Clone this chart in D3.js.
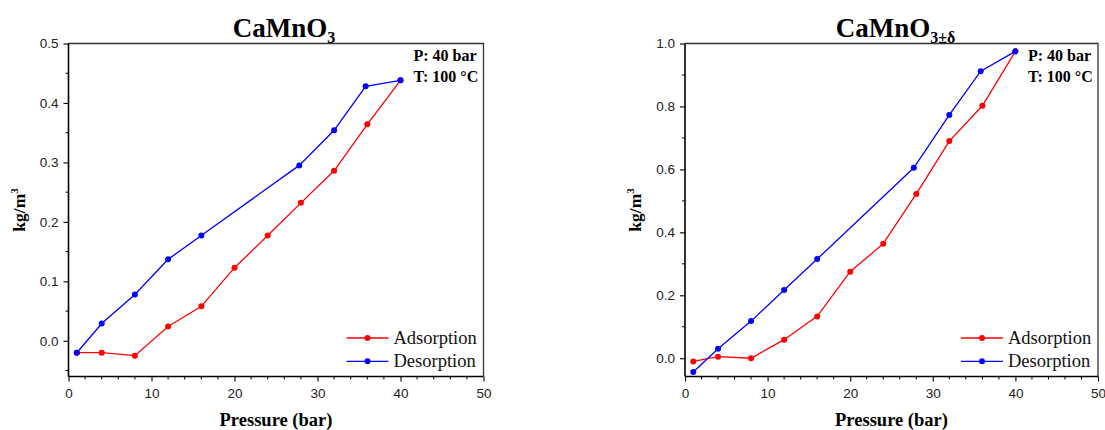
<!DOCTYPE html>
<html><head><meta charset="utf-8">
<script src="https://cdn.jsdelivr.net/npm/d3@7"></script>
<style>
html,body{margin:0;padding:0;background:#fff;}
svg{display:block;}
</style></head>
<body>
<svg id="chart" width="1105" height="430"></svg>
<script>
// ---- data ----
const leftAdsX = [1, 4, 8, 12, 16, 20, 24, 28, 32, 36, 40];
const leftAdsY = [-0.020, -0.020, -0.025, 0.024, 0.058, 0.123, 0.177, 0.232, 0.286, 0.364, 0.438];
const leftDesX = [1, 4, 8, 12, 16, 27.8, 32, 35.8, 40];
const leftDesY = [-0.020, 0.029, 0.078, 0.137, 0.177, 0.295, 0.354, 0.428, 0.438];

const rightAdsX = [1, 4, 8, 12, 16, 20, 24, 28, 32, 36, 40];
const rightAdsY = [-0.010, 0.005, 0.000, 0.059, 0.133, 0.275, 0.364, 0.522, 0.690, 0.802, 0.975];
const rightDesX = [1, 4, 8, 12, 16, 27.7, 32, 35.8, 40];
const rightDesY = [-0.044, 0.030, 0.118, 0.217, 0.315, 0.605, 0.773, 0.912, 0.975];

const xTicks = [0, 10, 20, 30, 40, 50];
const leftYTicks = [0.0, 0.1, 0.2, 0.3, 0.4, 0.5];
const rightYTicks = [0.0, 0.2, 0.4, 0.6, 0.8, 1.0];
const seriesNames = ["Adsorption", "Desorption"];
const seriesColors = ["#ff0000", "#0000ff"];
const annotations = ["P: 40 bar", "T: 100 °C"];

const svg = d3.select("#chart");
const SERIF = "'Liberation Serif', 'Times New Roman', Times, serif";

function panel(cfg) {
  const x = d3.scaleLinear().domain([0, 50]).range([cfg.x0, cfg.x1]);
  const y = d3.scaleLinear().domain(cfg.yDomain).range([cfg.y1, cfg.y0]);
  const g = svg.append("g");

  // frame (top & right)
  g.append("path")
    .attr("d", `M${cfg.x0},${cfg.y0}H${cfg.x1}V${cfg.y1}`)
    .attr("fill", "none").attr("stroke", "#333").attr("stroke-width", 1.3);

  // minor ticks
  const xMinor = d3.range(0, 50.001, 2).filter(v => v % 10 !== 0);
  g.append("g").selectAll("line").data(xMinor).join("line")
    .attr("x1", d => x(d)).attr("x2", d => x(d))
    .attr("y1", cfg.y1).attr("y2", cfg.y1 + 3)
    .attr("stroke", "#000").attr("stroke-width", 1);
  g.append("g").selectAll("line").data(cfg.yMinor).join("line")
    .attr("y1", d => y(d)).attr("y2", d => y(d))
    .attr("x1", cfg.x0).attr("x2", cfg.x0 - 3)
    .attr("stroke", "#000").attr("stroke-width", 1);

  // axes
  const xa = g.append("g").attr("transform", `translate(0,${cfg.y1})`)
    .call(d3.axisBottom(x).tickValues(xTicks).tickSize(5).tickSizeOuter(0).tickPadding(7).tickFormat(d3.format("d")));
  const ya = g.append("g").attr("transform", `translate(${cfg.x0},0)`)
    .call(d3.axisLeft(y).tickValues(cfg.yTicks).tickSize(5).tickSizeOuter(0).tickPadding(5).tickFormat(d3.format(".1f")));
  [xa, ya].forEach(a => {
    a.select(".domain").attr("stroke", "#000").attr("stroke-width", 1.6);
    a.selectAll(".tick line").attr("stroke", "#000").attr("stroke-width", 1.1);
    a.selectAll(".tick text").attr("fill", "#222")
      .style("font-family", "'Liberation Sans', Arial, sans-serif").style("font-size", "13.5px");
  });
  xa.select(".domain").attr("d", `M${cfg.x0},0H${cfg.x1}`);
  ya.select(".domain").attr("d", `M0,${cfg.y1}V${cfg.y0}`);

  // series
  const line = d3.line().x(d => x(d[0])).y(d => y(d[1]));
  cfg.series.forEach((s, i) => {
    const pts = s.xs.map((v, k) => [v, s.ys[k]]);
    g.append("path").datum(pts).attr("d", line)
      .attr("fill", "none").attr("stroke", seriesColors[i]).attr("stroke-width", 1.3);
    g.append("g").selectAll("circle").data(pts).join("circle")
      .attr("cx", d => x(d[0])).attr("cy", d => y(d[1])).attr("r", 3)
      .attr("fill", seriesColors[i]);
  });

  // title
  const t = g.append("text")
    .attr("x", (cfg.x0 + cfg.x1) / 2 + cfg.titleOffset).attr("y", 37)
    .attr("text-anchor", "middle")
    .style("font-family", SERIF)
    .style("font-weight", "bold").style("font-size", "27px");
  t.append("tspan").text("CaMnO");
  t.append("tspan").attr("dy", 6).style("font-size", "16px").text(cfg.sub);

  // annotations
  annotations.forEach((a, k) => {
    g.append("text").attr("x", cfg.x1 - 70).attr("y", 61 + k * 20.5)
      .style("font-family", SERIF)
      .style("font-weight", "bold").style("font-size", "16px").text(a);
  });

  // legend
  seriesNames.forEach((n, i) => {
    const ly = 338 + i * 23.3;
    const lx = cfg.x1 - 137;
    g.append("line").attr("x1", lx).attr("x2", lx + 42).attr("y1", ly).attr("y2", ly)
      .attr("stroke", seriesColors[i]).attr("stroke-width", 1.3);
    g.append("circle").attr("cx", lx + 21).attr("cy", ly).attr("r", 3).attr("fill", seriesColors[i]);
    g.append("text").attr("x", lx + 47).attr("y", ly + 6)
      .style("font-family", SERIF)
      .style("font-size", "18.5px").attr("fill", "#111").text(n);
  });

  // axis labels
  g.append("text").attr("x", (cfg.x0 + cfg.x1) / 2).attr("y", 426)
    .attr("text-anchor", "middle")
    .style("font-family", SERIF)
    .style("font-weight", "bold").style("font-size", "18.5px").text("Pressure (bar)");
  const yl = g.append("text")
    .attr("transform", `translate(${cfg.yLabelX},${(cfg.y0 + cfg.y1) / 2}) rotate(-90)`)
    .attr("text-anchor", "middle")
    .style("font-family", SERIF)
    .style("font-weight", "bold").style("font-size", "17.5px");
  yl.append("tspan").text("kg/m");
  yl.append("tspan").attr("dy", -7).style("font-size", "11px").text("3");
}

panel({
  x0: 68.5, x1: 483.5, y0: 43.5, y1: 376.5,
  yDomain: [-0.06, 0.5], yTicks: leftYTicks,
  yMinor: [-0.05, 0.05, 0.15, 0.25, 0.35, 0.45],
  series: [{xs: leftAdsX, ys: leftAdsY}, {xs: leftDesX, ys: leftDesY}],
  sub: "3", titleOffset: 8, yLabelX: 25
});
panel({
  x0: 685, x1: 1098, y0: 43.5, y1: 376.5,
  yDomain: [-0.058, 1.0], yTicks: rightYTicks,
  yMinor: [0.1, 0.3, 0.5, 0.7, 0.9],
  series: [{xs: rightAdsX, ys: rightAdsY}, {xs: rightDesX, ys: rightDesY}],
  sub: "3±δ", titleOffset: 4, yLabelX: 641
});
</script>
</body></html>
